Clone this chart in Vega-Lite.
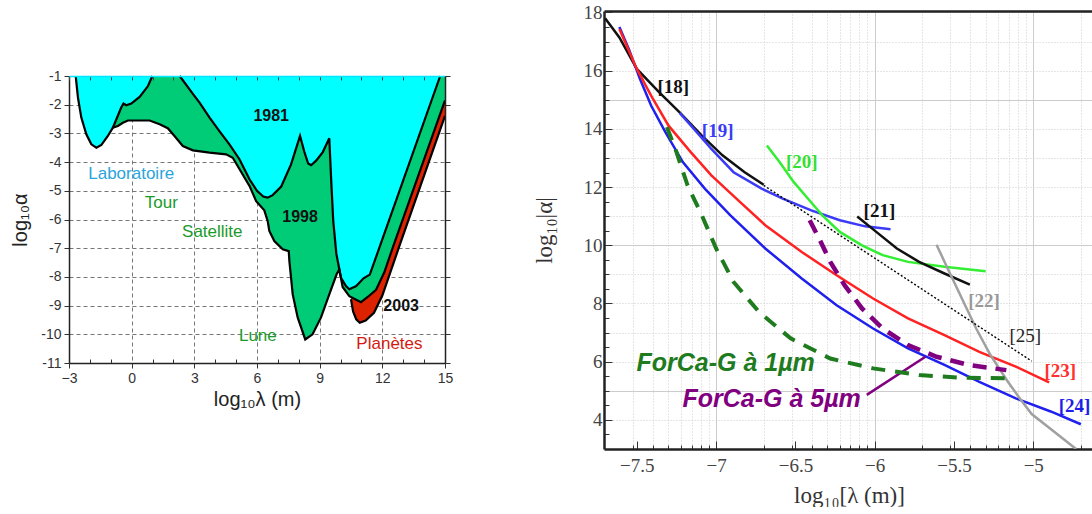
{
"$schema": "https://vega.github.io/schema/vega-lite/v6.json",
"padding": {"left": 10, "top": 3, "right": 0, "bottom": 0},
"config": {"view": {"stroke": null}},
"spacing": 80,
"datasets": {
"l81": [
{"x":-2.68,"y":-1,"s":"A"},{"x":-2.57,"y":-1.76,"s":"A"},{"x":-2.41,"y":-2.45,"s":"A"},{"x":-2.17,"y":-3.03,"s":"A"},{"x":-1.93,"y":-3.38,"s":"A"},{"x":-1.69,"y":-3.5,"s":"A"},{"x":-1.45,"y":-3.4,"s":"A"},{"x":-1.14,"y":-3.09,"s":"A"},{"x":-0.9,"y":-2.8,"s":"A"},{"x":-0.5,"y":-2.1,"s":"A"},{"x":-0.39,"y":-1.96,"s":"A"},{"x":-0.26,"y":-2.02,"s":"A"},{"x":-0.02,"y":-1.96,"s":"A"},{"x":0.38,"y":-1.73,"s":"A"},{"x":0.78,"y":-1.35,"s":"A"},{"x":0.99,"y":-1,"s":"A"},
{"x":2.3,"y":-1,"s":"B"},{"x":2.93,"y":-1.62,"s":"B"},{"x":3.25,"y":-1.93,"s":"B"},{"x":3.73,"y":-2.45,"s":"B"},{"x":4.2,"y":-2.92,"s":"B"},{"x":4.68,"y":-3.38,"s":"B"},{"x":5.16,"y":-3.9,"s":"B"},{"x":5.64,"y":-4.6,"s":"B"},{"x":6.0,"y":-5.0,"s":"B"},{"x":6.3,"y":-5.2,"s":"B"},{"x":6.51,"y":-5.24,"s":"B"},{"x":6.75,"y":-5.15,"s":"B"},{"x":7.16,"y":-4.85,"s":"B"},{"x":7.63,"y":-4.08,"s":"B"},{"x":8.06,"y":-3.09,"s":"B"},{"x":8.27,"y":-3.65,"s":"B"},{"x":8.45,"y":-4.05,"s":"B"},{"x":8.59,"y":-4.11,"s":"B"},{"x":8.83,"y":-3.95,"s":"B"},{"x":9.15,"y":-3.65,"s":"B"},{"x":9.46,"y":-3.17,"s":"B"},{"x":9.55,"y":-4.6,"s":"B"},{"x":9.65,"y":-6.05,"s":"B"},{"x":9.8,"y":-7.2,"s":"B"},{"x":10.02,"y":-8.03,"s":"B"},{"x":10.26,"y":-8.32,"s":"B"},{"x":10.42,"y":-8.43,"s":"B"},{"x":10.75,"y":-8.32,"s":"B"},{"x":11.1,"y":-8.05,"s":"B"},{"x":11.4,"y":-7.92,"s":"B"},{"x":11.85,"y":-7.0,"s":"B"},{"x":14.77,"y":-1,"s":"B"}
],
"l98": [
{"x":-0.9,"y":-2.8},{"x":-0.66,"y":-2.74},{"x":-0.42,"y":-2.63},{"x":-0.18,"y":-2.55},{"x":0.86,"y":-2.55},{"x":1.34,"y":-2.68},{"x":1.73,"y":-2.82},{"x":2.05,"y":-3.09},{"x":2.45,"y":-3.44},{"x":2.93,"y":-3.59},{"x":3.73,"y":-3.67},{"x":4.52,"y":-3.73},{"x":4.84,"y":-3.85},{"x":5.64,"y":-4.83},{"x":5.96,"y":-5.36},{"x":6.35,"y":-5.68},{"x":6.51,"y":-6.05},{"x":6.59,"y":-6.4},{"x":6.83,"y":-6.75},{"x":7.23,"y":-7.04},{"x":7.52,"y":-7.1},{"x":7.55,"y":-7.45},{"x":7.71,"y":-8.61},{"x":7.95,"y":-9.42},{"x":8.31,"y":-10.18},{"x":8.66,"y":-10.0},{"x":9.06,"y":-9.42},{"x":9.46,"y":-8.61},{"x":9.81,"y":-7.91},{"x":9.94,"y":-7.74},{"x":10.1,"y":-8.35},{"x":10.42,"y":-8.67},{"x":10.98,"y":-8.88},{"x":11.3,"y":-8.7},{"x":11.7,"y":-8.45},{"x":12.09,"y":-7.85},{"x":12.49,"y":-7.0},{"x":15.0,"y":-1.85}
],
"l03": [
{"x":10.5,"y":-8.78},{"x":10.6,"y":-9.2},{"x":10.75,"y":-9.48},{"x":10.92,"y":-9.6},{"x":11.2,"y":-9.52},{"x":11.6,"y":-9.25},{"x":12.0,"y":-8.65},{"x":12.78,"y":-7.0},{"x":15.0,"y":-2.39}
],
"llab": [
{"t":"1981","x":6.68,"y":-2.39},{"t":"1998","x":8.06,"y":-5.91},{"t":"2003","x":12.9,"y":-9.01},
{"t":"Laboratoire","x":-0.02,"y":-4.43},{"t":"Tour","x":1.42,"y":-5.41},{"t":"Satellite","x":3.86,"y":-6.42},{"t":"Lune","x":6.04,"y":-10.06},{"t":"Planètes","x":12.34,"y":-10.33}
],
"rl": [
{"s":"18","x":-7.7,"y":17.8},{"s":"18","x":-7.61,"y":17.14},{"s":"18","x":-7.5,"y":16.06},{"s":"18","x":-7.36,"y":15.26},{"s":"18","x":-7.23,"y":14.57},{"s":"18","x":-7.09,"y":13.77},{"s":"18","x":-6.96,"y":13.09},{"s":"18","x":-6.82,"y":12.51},{"s":"18","x":-6.7,"y":12.08},
{"s":"24","x":-7.61,"y":17.5},{"s":"24","x":-7.55,"y":16.74},{"s":"24","x":-7.48,"y":15.71},{"s":"24","x":-7.41,"y":14.8},{"s":"24","x":-7.32,"y":13.89},{"s":"24","x":-7.21,"y":12.86},{"s":"24","x":-7.07,"y":11.94},{"s":"24","x":-6.91,"y":11.03},{"s":"24","x":-6.69,"y":9.89},{"s":"24","x":-6.46,"y":8.86},{"s":"24","x":-6.24,"y":7.94},{"s":"24","x":-6.01,"y":7.14},{"s":"24","x":-5.79,"y":6.46},{"s":"24","x":-5.56,"y":5.89},{"s":"24","x":-5.34,"y":5.31},{"s":"24","x":-5.11,"y":4.74},{"s":"24","x":-4.89,"y":4.29},{"s":"24","x":-4.7,"y":3.85},
{"s":"23","x":-7.61,"y":17.43},{"s":"23","x":-7.5,"y":16.06},{"s":"23","x":-7.41,"y":15.14},{"s":"23","x":-7.3,"y":14.11},{"s":"23","x":-7.16,"y":13.2},{"s":"23","x":-7.03,"y":12.4},{"s":"23","x":-6.85,"y":11.49},{"s":"23","x":-6.69,"y":10.69},{"s":"23","x":-6.46,"y":9.77},{"s":"23","x":-6.24,"y":8.97},{"s":"23","x":-6.01,"y":8.17},{"s":"23","x":-5.79,"y":7.49},{"s":"23","x":-5.56,"y":6.91},{"s":"23","x":-5.34,"y":6.34},{"s":"23","x":-5.11,"y":5.83},{"s":"23","x":-4.9,"y":5.29},
{"s":"19","x":-7.23,"y":14.55},{"s":"19","x":-7.14,"y":14.0},{"s":"19","x":-7.03,"y":13.31},{"s":"19","x":-6.89,"y":12.51},{"s":"19","x":-6.71,"y":11.94},{"s":"19","x":-6.58,"y":11.6},{"s":"19","x":-6.4,"y":11.2},{"s":"19","x":-6.22,"y":10.86},{"s":"19","x":-6.06,"y":10.65},{"s":"19","x":-5.9,"y":10.55},
{"s":"25","x":-6.7,"y":12.06},{"s":"25","x":-5.01,"y":6.02},
{"s":"20","x":-6.68,"y":13.43},{"s":"20","x":-6.6,"y":12.86},{"s":"20","x":-6.51,"y":12.17},{"s":"20","x":-6.42,"y":11.6},{"s":"20","x":-6.33,"y":11.03},{"s":"20","x":-6.22,"y":10.46},{"s":"20","x":-6.08,"y":10.0},{"s":"20","x":-5.95,"y":9.66},{"s":"20","x":-5.79,"y":9.43},{"s":"20","x":-5.56,"y":9.26},{"s":"20","x":-5.3,"y":9.11},
{"s":"21","x":-6.11,"y":10.99},{"s":"21","x":-5.99,"y":10.46},{"s":"21","x":-5.86,"y":9.89},{"s":"21","x":-5.72,"y":9.43},{"s":"21","x":-5.56,"y":9.03},{"s":"21","x":-5.4,"y":8.65},
{"s":"22","x":-5.61,"y":10.02},{"s":"22","x":-5.54,"y":9.2},{"s":"22","x":-5.45,"y":8.17},{"s":"22","x":-5.36,"y":7.14},{"s":"22","x":-5.27,"y":6.23},{"s":"22","x":-5.16,"y":5.31},{"s":"22","x":-5.08,"y":4.7},{"s":"22","x":-5.01,"y":4.2},{"s":"22","x":-4.87,"y":3.6},{"s":"22","x":-4.73,"y":3.0},
{"s":"g1","x":-7.31,"y":14.06},{"s":"g1","x":-7.25,"y":13.2},{"s":"g1","x":-7.18,"y":12.06},{"s":"g1","x":-7.09,"y":11.03},{"s":"g1","x":-7.0,"y":9.89},{"s":"g1","x":-6.89,"y":8.74},{"s":"g1","x":-6.73,"y":7.71},{"s":"g1","x":-6.53,"y":6.8},{"s":"g1","x":-6.28,"y":6.11},{"s":"g1","x":-6.01,"y":5.77},{"s":"g1","x":-5.72,"y":5.54},{"s":"g1","x":-5.45,"y":5.45},{"s":"g1","x":-5.17,"y":5.43},
{"s":"p5","x":-6.41,"y":10.86},{"s":"p5","x":-6.35,"y":10.23},{"s":"p5","x":-6.28,"y":9.43},{"s":"p5","x":-6.19,"y":8.63},{"s":"p5","x":-6.08,"y":7.83},{"s":"p5","x":-5.95,"y":7.14},{"s":"p5","x":-5.79,"y":6.57},{"s":"p5","x":-5.61,"y":6.17},{"s":"p5","x":-5.41,"y":5.89},{"s":"p5","x":-5.17,"y":5.71},
{"s":"ptr","x":-6.05,"y":4.86},{"s":"ptr","x":-5.68,"y":6.17}
],
"rlab": [
{"t":"[18]","x":-7.27,"y":15.43},{"t":"[19]","x":-6.99,"y":13.94},{"t":"[20]","x":-6.46,"y":12.86},{"t":"[21]","x":-5.97,"y":11.17},{"t":"[22]","x":-5.31,"y":8.1},{"t":"[23]","x":-4.83,"y":5.69},{"t":"[24]","x":-4.74,"y":4.49}
],
"rlab2": [{"t":"[25]","x":-5.05,"y":6.87}],
"forca": [{"t":"ForCa-G à 1µm","x":-6.94,"y":5.97},{"t":"ForCa-G à 5µm","x":-6.65,"y":4.72}]
},
"resolve": {"scale": {"color": "independent"}},
"hconcat": [
{
"spacing": 0,
"vconcat": [
{"width": 376, "height": 58, "data": {"values": [{}]}, "mark": {"type": "text"}, "encoding": {"text": {"value": ""}}},
{
"width": 376, "height": 287,
"layer": [
{"data": {"name": "l03"}, "mark": {"type": "area", "color": "#dd2200", "opacity": 1},
 "encoding": {
  "x": {"field": "x", "type": "quantitative", "scale": {"domain": [-3, 15], "nice": false, "zero": false},
   "axis": {"orient": "bottom", "values": [-3,-2,-1,0,1,2,3,4,5,6,7,8,9,10,11,12,13,14,15],
    "labelExpr": "datum.value % 3 == 0 ? format(datum.value, '') : ''", "labelOverlap": false, "labelFlush": false,
    "labelFont": "Liberation Sans", "labelFontSize": 14, "labelColor": "#333", "labelPadding": 3,
    "tickSize": {"condition": {"test": "datum.value % 3 == 0", "value": 5}, "value": -4}, "tickColor": "#333",
    "grid": true, "gridColor": "#777", "gridDash": [4, 3],
    "gridOpacity": {"condition": {"test": "datum.value % 3 == 0 && datum.value > -3 && datum.value < 15", "value": 1}, "value": 0},
    "domainColor": "#222", "domainWidth": 1.5,
    "title": "log₁₀λ (m)", "titleFont": "Liberation Sans", "titleFontSize": 20, "titleFontWeight": "normal", "titleColor": "#222", "titlePadding": 4}},
  "y": {"field": "y", "type": "quantitative", "scale": {"domain": [-11, -1], "nice": false, "zero": false},
   "axis": {"orient": "left", "values": [-11,-10,-9,-8,-7,-6,-5,-4,-3,-2,-1],
    "labelExpr": "replace(format(datum.value, ''), '−', '-')", "labelOverlap": false, "labelFlush": false,
    "labelFont": "Liberation Sans", "labelFontSize": 14, "labelColor": "#333", "labelPadding": 3,
    "tickSize": 5, "tickColor": "#333",
    "grid": true, "gridColor": "#777", "gridDash": [4, 3],
    "gridOpacity": {"condition": {"test": "datum.value < -1 && datum.value > -11", "value": 1}, "value": 0},
    "domainColor": "#222", "domainWidth": 1.5,
    "title": "log₁₀α", "titleFont": "Liberation Sans", "titleFontSize": 20, "titleFontWeight": "normal", "titleColor": "#222", "titlePadding": 10}},
  "y2": {"datum": -1}}},
{"data": {"name": "l98"}, "mark": {"type": "area", "color": "#00cc77", "opacity": 1},
 "encoding": {"x": {"field": "x", "type": "quantitative", "axis": null}, "y": {"field": "y", "type": "quantitative", "axis": null}, "y2": {"datum": -1}}},
{"data": {"name": "l81"}, "mark": {"type": "area", "color": "#00ffff", "opacity": 1},
 "encoding": {"x": {"field": "x", "type": "quantitative", "axis": null}, "y": {"field": "y", "type": "quantitative", "axis": null}, "y2": {"datum": -1}, "detail": {"field": "s"}}},
{"data": {"name": "l03"}, "mark": {"type": "line", "color": "#000", "strokeWidth": 2.2},
 "encoding": {
  "x": {"field": "x", "type": "quantitative",
   "axis": {"orient": "top", "values": [-3,-2,-1,0,1,2,3,4,5,6,7,8,9,10,11,12,13,14,15], "labels": false, "grid": false, "title": null,
    "tickSize": -4, "tickColor": "#444", "domainColor": "#00e8ff", "domainWidth": 1.5, "zindex": 1}},
  "y": {"field": "y", "type": "quantitative",
   "axis": {"orient": "right", "values": [-11,-10,-9,-8,-7,-6,-5,-4,-3,-2,-1], "labels": false, "grid": false, "title": null,
    "tickSize": 5, "tickColor": "#333", "domainColor": "#222", "domainWidth": 1.5, "zindex": 1}}}},
{"data": {"name": "l98"}, "mark": {"type": "line", "color": "#000", "strokeWidth": 2.2},
 "encoding": {"x": {"field": "x", "type": "quantitative", "axis": null}, "y": {"field": "y", "type": "quantitative", "axis": null}}},
{"data": {"name": "l81"}, "mark": {"type": "line", "color": "#000", "strokeWidth": 2.2},
 "encoding": {"x": {"field": "x", "type": "quantitative", "axis": null}, "y": {"field": "y", "type": "quantitative", "axis": null}, "detail": {"field": "s"}}},
{"data": {"name": "llab"}, "transform": [{"filter": "datum.t == '1981' || datum.t == '1998' || datum.t == '2003'"}],
 "mark": {"type": "text", "font": "Liberation Sans", "fontWeight": "bold", "fontSize": 16, "color": "#111", "align": "center", "baseline": "middle"},
 "encoding": {"x": {"field": "x", "type": "quantitative", "axis": null}, "y": {"field": "y", "type": "quantitative", "axis": null}, "text": {"field": "t"}}},
{"data": {"name": "llab"}, "transform": [{"filter": "datum.t != '1981' && datum.t != '1998' && datum.t != '2003'"}],
 "mark": {"type": "text", "font": "Liberation Sans", "fontSize": 17, "align": "center", "baseline": "middle"},
 "encoding": {"x": {"field": "x", "type": "quantitative", "axis": null}, "y": {"field": "y", "type": "quantitative", "axis": null}, "text": {"field": "t"},
  "color": {"field": "t", "type": "nominal", "legend": null, "scale": {"domain": ["Laboratoire", "Tour", "Satellite", "Lune", "Planètes"], "range": ["#2aa4dc", "#1a9a2a", "#1a9a2a", "#1a9a2a", "#d41a10"]}}}}
],
"resolve": {"axis": {"x": "independent", "y": "independent"}}
}
]
},
{
"width": 490, "height": 438,
"layer": [
{"data": {"name": "rl"}, "transform": [{"filter": "indexof(['18','19','20','21','22','23','24','ptr'], datum.s) >= 0"}],
 "mark": {"type": "line", "strokeWidth": 2.5, "clip": true},
 "encoding": {
  "x": {"field": "x", "type": "quantitative", "scale": {"domain": [-7.707, -4.617], "nice": false, "zero": false},
   "axis": {"orient": "bottom",
    "values": [-7.52288,-7.5,-7.39794,-7.30103,-7.22185,-7.1549,-7.09691,-7.04576,-7,-6.52288,-6.69897,-6.5,-6.39794,-6.30103,-6.22185,-6.1549,-6.09691,-6.04576,-6,-5.69897,-5.52288,-5.5,-5.39794,-5.30103,-5.22185,-5.1549,-5.09691,-5.04576,-5,-4.69897],
    "labelExpr": "abs(datum.value*2 - round(datum.value*2)) < 0.000001 ? format(datum.value, '') : ''", "labelOverlap": false, "labelFlush": false,
    "labelFont": "Liberation Serif", "labelFontSize": 19, "labelColor": "#444", "labelPadding": 15,
    "tickSize": {"condition": {"test": "abs(datum.value*2 - round(datum.value*2)) < 0.000001", "value": -8}, "value": -4}, "tickColor": "#333",
    "grid": true, "gridColor": "#cccccc",
    "gridDash": {"condition": {"test": "abs(datum.value - round(datum.value)) < 0.000001", "value": []}, "value": [1, 2]},
    "gridOpacity": {"condition": {"test": "abs(datum.value*2 - round(datum.value*2)) < 0.000001 && abs(datum.value - round(datum.value)) > 0.000001", "value": 0}, "value": 1},
    "domainColor": "#222", "domainWidth": 2.5,
    "title": "log₁₀[λ (m)]", "titleFont": "Liberation Serif", "titleFontSize": 23, "titleFontWeight": "normal", "titleColor": "#333", "titlePadding": 5}},
  "y": {"field": "y", "type": "quantitative", "scale": {"domain": [3, 18.05], "nice": false, "zero": false},
   "axis": {"orient": "left",
    "values": [3.5,4,4.5,5,5.5,6,6.5,7,7.5,8,8.5,9,9.5,10,10.5,11,11.5,12,12.5,13,13.5,14,14.5,15,15.5,16,16.5,17,17.5,18],
    "labelExpr": "datum.value % 2 == 0 ? format(datum.value, '') : ''", "labelOverlap": false, "labelFlush": false,
    "labelFont": "Liberation Serif", "labelFontSize": 19, "labelColor": "#444", "labelPadding": 10,
    "tickSize": {"condition": {"test": "datum.value % 2 == 0", "value": -8}, "value": -5}, "tickColor": "#333",
    "grid": true, "gridColor": "#cccccc",
    "gridDash": {"condition": {"test": "datum.value % 5 == 0", "value": []}, "value": [1, 2]},
    "gridOpacity": {"condition": {"test": "datum.value % 1 != 0", "value": 0}, "value": 1},
    "domainColor": "#222", "domainWidth": 2.5,
    "title": "log₁₀|α|", "titleFont": "Liberation Serif", "titleFontSize": 23, "titleFontWeight": "normal", "titleColor": "#333", "titlePadding": 27}},
  "color": {"field": "s", "type": "nominal", "legend": null,
   "scale": {"domain": ["18", "19", "20", "21", "22", "23", "24", "ptr"], "range": ["#111111", "#3b3bf5", "#33ee33", "#111111", "#a0a0a0", "#ff2222", "#1f1fee", "#800080"]}}}},
{"data": {"name": "rl"}, "transform": [{"filter": "datum.s == '25'"}],
 "mark": {"type": "line", "color": "#000", "strokeWidth": 1.4, "strokeDash": [2, 2]},
 "encoding": {
  "x": {"field": "x", "type": "quantitative",
   "axis": {"orient": "top", "labels": false, "ticks": false, "grid": false, "title": null, "domainColor": "#222", "domainWidth": 2.5}},
  "y": {"field": "y", "type": "quantitative", "axis": null}}},
{"data": {"name": "rl"}, "transform": [{"filter": "datum.s == 'g1'"}],
 "mark": {"type": "line", "color": "#1e7b1e", "strokeWidth": 4, "strokeDash": [14, 10]},
 "encoding": {"x": {"field": "x", "type": "quantitative", "axis": null}, "y": {"field": "y", "type": "quantitative", "axis": null}}},
{"data": {"name": "rl"}, "transform": [{"filter": "datum.s == 'p5'"}],
 "mark": {"type": "line", "color": "#800080", "strokeWidth": 4.5, "strokeDash": [14, 9]},
 "encoding": {"x": {"field": "x", "type": "quantitative", "axis": null}, "y": {"field": "y", "type": "quantitative", "axis": null}}},
{"data": {"name": "rlab"},
 "mark": {"type": "text", "font": "Liberation Serif", "fontWeight": "bold", "fontSize": 19, "align": "center", "baseline": "middle"},
 "encoding": {"x": {"field": "x", "type": "quantitative", "axis": null}, "y": {"field": "y", "type": "quantitative", "axis": null}, "text": {"field": "t"},
  "color": {"field": "t", "type": "nominal", "legend": null,
   "scale": {"domain": ["[18]", "[19]", "[20]", "[21]", "[22]", "[23]", "[24]"], "range": ["#111111", "#3b3bf5", "#33e033", "#111111", "#999999", "#ff3030", "#1e1ee8"]}}}},
{"data": {"name": "rlab2"},
 "mark": {"type": "text", "font": "Liberation Serif", "fontSize": 19, "color": "#222", "align": "center", "baseline": "middle"},
 "encoding": {"x": {"field": "x", "type": "quantitative", "axis": null}, "y": {"field": "y", "type": "quantitative", "axis": null}, "text": {"field": "t"}}},
{"data": {"name": "forca"},
 "mark": {"type": "text", "font": "Liberation Sans", "fontWeight": "bold", "fontStyle": "italic", "fontSize": 25, "align": "center", "baseline": "middle"},
 "encoding": {"x": {"field": "x", "type": "quantitative", "axis": null}, "y": {"field": "y", "type": "quantitative", "axis": null}, "text": {"field": "t"},
  "color": {"field": "t", "type": "nominal", "legend": null,
   "scale": {"domain": ["ForCa-G à 1µm", "ForCa-G à 5µm"], "range": ["#1e7b1e", "#800080"]}}}}
],
"resolve": {"axis": {"x": "independent", "y": "independent"}, "scale": {"color": "independent"}}
}
]
}
